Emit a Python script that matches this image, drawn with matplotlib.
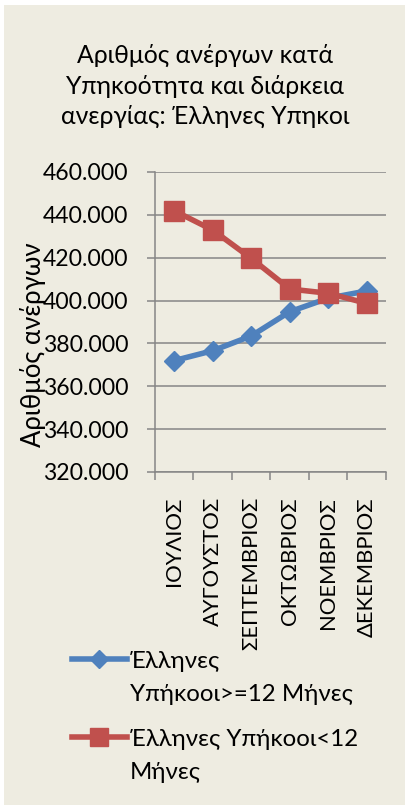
import matplotlib
matplotlib.use("Agg")
import matplotlib.pyplot as plt
from matplotlib.patches import Rectangle
from matplotlib.lines import Line2D
from matplotlib.ticker import FuncFormatter, FixedLocator

plt.rcParams['font.family'] = ['Lato', 'DejaVu Sans']

months = ['ΙΟΥΛΙΟΣ', 'ΑΥΓΟΥΣΤΟΣ', 'ΣΕΠΤΕΜΒΡΙΟΣ', 'ΟΚΤΩΒΡΙΟΣ', 'ΝΟΕΜΒΡΙΟΣ', 'ΔΕΚΕΜΒΡΙΟΣ']
long_term = [372000, 376600, 383500, 394800, 401100, 404500]
short_term = [441900, 432900, 419700, 405400, 403400, 398700]
series_names = ['Έλληνες\nΥπήκοοι>=12 Μήνες', 'Έλληνες Υπήκοοι<12\nΜήνες']
y_ticks = list(range(320000, 460001, 20000))

BG = '#EEECE1'
BLUE = '#4F81BD'
RED = '#C0504D'
GRID = '#868686'

W, H = 406, 807
fig = plt.figure(figsize=(W / 100, H / 100), dpi=100, facecolor='white')

# chart area background with the thin white margin
fig.patches.append(Rectangle((4 / W, 1 - 805 / H), 402 / W, 800 / H,
                             transform=fig.transFigure, facecolor=BG,
                             edgecolor='none', zorder=-10))

ax = fig.add_axes([155 / W, 1 - 472 / H, (386 - 155) / W, (472 - 172) / H])
ax.set_facecolor('none')

x = list(range(len(months)))
ax.plot(x, long_term, color=BLUE, lw=4, marker='D', ms=10, zorder=3,
        solid_joinstyle='round')
ax.plot(x, short_term, color=RED, lw=4, marker='s', ms=14.5, zorder=4,
        solid_joinstyle='round')

ax.set_xlim(-0.5, len(months) - 0.5)
ax.set_ylim(320000, 460000)
ax.set_yticks(y_ticks)
ax.yaxis.set_major_formatter(FuncFormatter(lambda v, p: f"{v:,.0f}".replace(",", ".")))
ax.grid(axis='y', color=GRID, lw=1.1)
ax.set_axisbelow(True)

ax.set_xticks(x)
ax.set_xticklabels(months, rotation=90, va='top', ha='center')
ax.xaxis.set_minor_locator(FixedLocator([i - 0.5 for i in range(len(months) + 1)]))
ax.tick_params(axis='x', which='major', length=0, pad=18, labelsize=15.8)
ax.tick_params(axis='x', which='minor', length=6, width=1.1, color=GRID)
ax.tick_params(axis='y', length=6, width=1.1, color=GRID, pad=13, labelsize=16.6)

for side in ['top', 'right']:
    ax.spines[side].set_visible(False)
for side in ['left', 'bottom']:
    ax.spines[side].set_color(GRID)
    ax.spines[side].set_linewidth(1.1)

fig.text(205 / W, 1 - 86 / H,
         'Αριθμός ανέργων κατά\nΥπηκοότητα και διάρκεια\nανεργίας: Έλληνες Υπηκοι',
         ha='center', va='center', fontsize=17.8, linespacing=1.4)

fig.text(33 / W, 1 - 345 / H, 'Αριθμός ανέργων', rotation=90,
         ha='center', va='center', fontsize=18.5)

# legend drawn by hand so the marker sits on the first text line
legend_rows = [(659, BLUE, 'D', 9.5), (737, RED, 's', 13)]
for (ly, col, mk, ms), name in zip(legend_rows, series_names):
    fig.add_artist(Line2D([72 / W, 127 / W], [1 - ly / H] * 2, color=col, lw=4,
                          transform=fig.transFigure))
    fig.add_artist(Line2D([99.5 / W], [1 - ly / H], color=col, marker=mk, ms=ms,
                          transform=fig.transFigure))
    for i, line in enumerate(name.split('\n')):
        fig.text(130 / W, 1 - (ly + 9 + 33 * i) / H, line, ha='left',
                 va='baseline', fontsize=17.3)

fig.savefig('out.png', dpi=100, facecolor=fig.get_facecolor())
